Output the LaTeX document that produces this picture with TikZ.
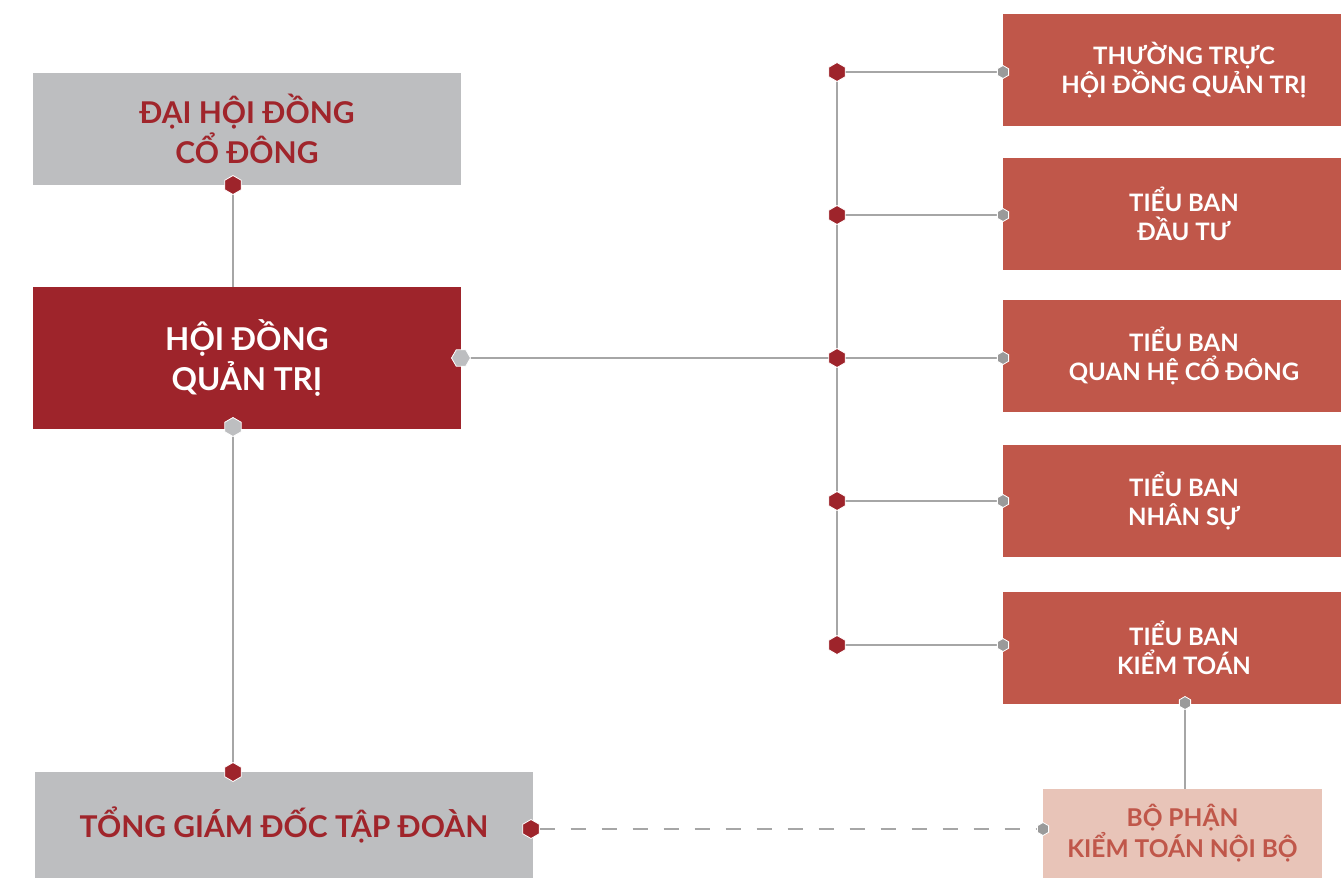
\documentclass[tikz,border=0pt]{standalone}
\usepackage{fontspec}
\setmainfont{Lato}
\usetikzlibrary{shapes.geometric,backgrounds}
\definecolor{boxgray}{HTML}{BDBEC0}
\definecolor{darkred}{HTML}{9E242B}
\definecolor{textred}{HTML}{A0252B}
\definecolor{terra}{HTML}{C0574A}
\definecolor{pinkbox}{HTML}{E8C4B8}
\definecolor{linegray}{HTML}{A6A6A6}
\definecolor{hexgray}{HTML}{9A9A9A}
\definecolor{hexlight}{HTML}{BDBEC0}
\tikzset{
  box/.style={anchor=north west, inner sep=0pt, outer sep=0pt, align=center, font=\bfseries},
  hexred/.style={regular polygon, regular polygon sides=6, shape border rotate=90, minimum size=19pt, inner sep=0pt, fill=darkred, draw=white, line width=0.8pt},
  hexbig/.style={regular polygon, regular polygon sides=6, minimum size=19pt, inner sep=0pt, fill=hexlight, draw=white, line width=0.8pt},
  hexbigv/.style={regular polygon, regular polygon sides=6, shape border rotate=90, minimum size=19pt, inner sep=0pt, fill=hexlight, draw=white, line width=0.8pt},
  hexsmall/.style={regular polygon, regular polygon sides=6, shape border rotate=90, minimum size=13pt, inner sep=0pt, fill=hexgray, draw=white, line width=0.8pt},
  conn/.style={draw=linegray, line width=1.3pt},
}
\begin{document}
\begin{tikzpicture}[x=1pt,y=-1pt]
\useasboundingbox (0,0) rectangle (1341,878);
% left boxes
\node[box, fill=boxgray, minimum width=428pt, minimum height=112pt, text=textred, font=\bfseries\fontsize{30}{40}\selectfont] (dhdcd) at (33,73) {ĐẠI HỘI ĐỒNG\\CỔ ĐÔNG};
\node[box, fill=darkred, minimum width=428pt, minimum height=142pt, text=white, font=\bfseries\fontsize{31.5}{40}\selectfont] (hdqt) at (33,287) {HỘI ĐỒNG\\QUẢN TRỊ};
\node[box, fill=boxgray, minimum width=498pt, minimum height=106pt, text=textred, font=\bfseries\fontsize{30}{40}\selectfont] (tgd) at (35,772) {TỔNG GIÁM ĐỐC TẬP ĐOÀN};
% right boxes
\tikzset{rbox/.style={box, fill=terra, minimum width=362pt, minimum height=112pt, text=white, font=\bfseries\fontsize{24}{29}\selectfont}}
\node[rbox] (b1) at (1003,14) {THƯỜNG TRỰC\\HỘI ĐỒNG QUẢN TRỊ};
\node[rbox] (b2) at (1003,158) {TIỂU BAN\\ĐẦU TƯ};
\node[rbox] (b3) at (1003,300) {TIỂU BAN\\QUAN HỆ CỔ ĐÔNG};
\node[rbox] (b4) at (1003,445) {TIỂU BAN\\NHÂN SỰ};
\node[rbox] (b5) at (1003,592) {TIỂU BAN\\KIỂM TOÁN};
\node[box, fill=pinkbox, minimum width=279pt, minimum height=89pt, text=terra, font=\bfseries\fontsize{24.5}{31}\selectfont] (ktnb) at (1043,789) {BỘ PHẬN\\KIỂM TOÁN NỘI BỘ};
% hexagon markers
\node[hexred] (h1) at (233,185) {};
\node[hexbigv] (h2) at (233,427) {};
\node[hexred] (h3) at (233,772) {};
\node[hexbig] (h4) at (461,358) {};
\node[hexred] (h5) at (531,829) {};
\node[hexsmall] (h6) at (1043,829) {};
\node[hexsmall] (h7) at (1185,703) {};
\coordinate (k7) at (1185,789);
\coordinate (top2) at (233,287);
\foreach \i/\y in {1/72,2/215,3/358,4/501,5/645}{
  \node[hexred] (s\i) at (837,\y) {};
  \node[hexsmall] (r\i) at (1003,\y) {};
}
\begin{scope}[on background layer]
\draw[conn] (h1.center) -- (top2);
\draw[conn] (h2.center) -- (h3.center);
\draw[conn] (h4.center) -- (s3.center);
\draw[conn] (s1.center) -- (s5.center);
\foreach \i in {1,...,5}{\draw[conn] (s\i.center) -- (r\i.center);}
\draw[conn] (h7.center) -- (k7);
\draw[conn, dash pattern=on 15pt off 16pt] (h5.east) -- (h6.center);
\end{scope}
\end{tikzpicture}
\end{document}
